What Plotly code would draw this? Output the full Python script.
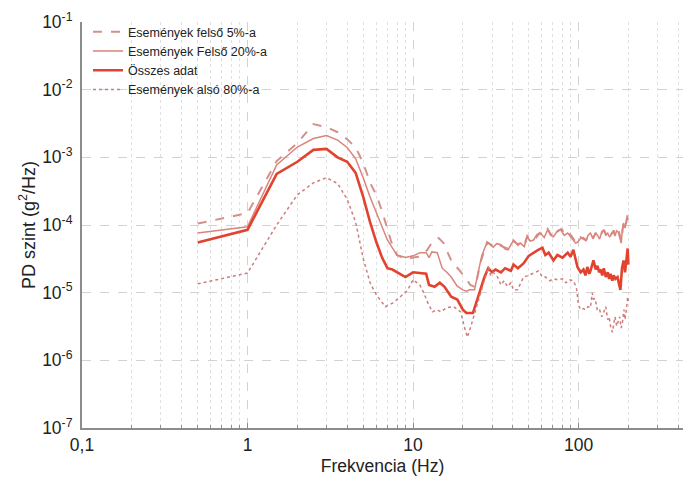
import plotly.graph_objects as go

# ---------------- data ----------------
freq_top5 = [0.5, 1, 1.5, 2, 2.5, 3, 3.5, 4, 4.5, 5, 5.5, 6, 6.5, 7, 7.5, 8, 9, 10, 11,
             12.2, 13.3, 14.3, 15.3, 16.2, 17.3, 18.9, 20.8, 22.2, 23.8, 25.5, 26.7, 28,
             30, 32, 34, 36, 38, 40.5, 43, 45, 47, 49, 52, 55, 58, 61, 65, 68, 71, 75,
             79, 83, 87, 91, 95, 99, 103, 107, 111, 115, 119, 123, 127, 131, 135, 139,
             143, 147, 151, 155, 159, 163, 167, 171, 175, 179, 182, 185, 188, 192, 195,
             198, 200]
psd_top5 = [1.05e-4, 1.5e-4, 8.8e-4, 1.63e-3, 3.1e-3, 2.8e-3, 2.35e-3, 1.85e-3, 1.4e-3,
            8.3e-4, 4.2e-4, 2.8e-4, 1.6e-4, 8.5e-5, 5.0e-5, 3.6e-5, 3.1e-5, 3.3e-5, 3.4e-5,
            4.3e-5, 6.0e-5, 6.4e-5, 5.4e-5, 3.9e-5, 2.75e-5, 2.2e-5, 1.65e-5, 1.3e-5, 1.2e-5,
            2.75e-5, 3.9e-5, 5.6e-5, 5.0e-5, 5.5e-5, 4.9e-5, 4.6e-5, 4.4e-5, 5.8e-5, 5.2e-5,
            5.6e-5, 5.0e-5, 6.9e-5, 6.0e-5, 6.3e-5, 7.6e-5, 7.0e-5, 8.8e-5, 7.3e-5, 6.5e-5,
            8.2e-5, 8.7e-5, 7.2e-5, 7.8e-5, 6.8e-5, 5.8e-5, 5.5e-5, 6.6e-5, 6.2e-5, 6.0e-5,
            7.4e-5, 7.2e-5, 6.5e-5, 7.7e-5, 6.8e-5, 6.5e-5, 8.0e-5, 8.2e-5, 7.2e-5, 7.9e-5,
            6.9e-5, 7.5e-5, 8.3e-5, 7.1e-5, 8.5e-5, 8.0e-5, 6.2e-5, 5.8e-5, 9.0e-5, 1.1e-4,
            9.5e-5, 1.2e-4, 1.45e-4, 1.3e-4]

freq_top20 = [0.5, 1, 1.5, 2, 2.5, 3, 3.5, 4, 4.5, 5, 5.5, 6, 6.5, 7, 7.5, 8, 9, 10, 11,
              12, 12.5, 13, 14, 15, 16, 17, 18.5, 20, 21, 22, 23.5, 25, 26, 27.5, 28.5,
              30.5, 32, 34, 36, 37.5, 40.5, 43, 44.5, 47, 49, 51, 53.5, 56, 59, 62, 65,
              68, 70.5, 74, 78, 82, 86, 90, 93, 96, 99, 103, 107, 111, 114, 118, 122, 126,
              130, 134, 138, 142, 146, 150, 154, 158, 162, 166, 170, 174, 178, 181, 184,
              187, 191, 194, 197, 200]
psd_top20 = [7.6e-5, 9.4e-5, 7.7e-4, 1.42e-3, 1.9e-3, 2.1e-3, 1.8e-3, 1.4e-3, 9.5e-4,
             5.0e-4, 2.6e-4, 1.5e-4, 9.4e-5, 6.0e-5, 4.6e-5, 3.6e-5, 3.3e-5, 3.5e-5, 3.9e-5,
             3.9e-5, 3.3e-5, 4.0e-5, 3.9e-5, 2.3e-5, 2.0e-5, 1.7e-5, 1.25e-5, 1.1e-5,
             1.05e-5, 1.1e-5, 1.1e-5, 2.2e-5, 3.5e-5, 5.0e-5, 5.4e-5, 4.7e-5, 5.3e-5, 5.1e-5,
             4.4e-5, 4.3e-5, 6.0e-5, 5.0e-5, 5.4e-5, 4.8e-5, 6.7e-5, 5.8e-5, 6.0e-5, 7.2e-5,
             7.6e-5, 6.5e-5, 8.5e-5, 7.0e-5, 6.7e-5, 8.0e-5, 8.5e-5, 7.0e-5, 7.6e-5, 6.6e-5,
             6.0e-5, 5.4e-5, 5.6e-5, 6.4e-5, 6.5e-5, 5.8e-5, 7.0e-5, 7.6e-5, 6.3e-5, 7.4e-5,
             7.1e-5, 6.2e-5, 7.8e-5, 8.5e-5, 7.0e-5, 7.6e-5, 6.6e-5, 7.2e-5, 8.0e-5, 6.9e-5,
             8.2e-5, 7.8e-5, 6.0e-5, 5.4e-5, 8.5e-5, 1.07e-4, 9.0e-5, 1.15e-4, 1.3e-4, 1.2e-4]

freq_all = [0.5, 1, 1.5, 2, 2.5, 3, 3.5, 4, 4.5, 5, 5.5, 6, 6.5, 7, 7.5, 8, 9, 10, 11, 12,
            12.5, 13.5, 14.5, 15.5, 17, 18.5, 20, 21, 23, 24, 25.5, 27, 28.5, 30, 31.5, 34,
            36, 39, 40.5, 43, 46.5, 50, 53.5, 57, 60.5, 63, 66, 70.5, 74.5, 80, 86, 89.5,
            93, 98.5, 103, 107, 110, 113, 116, 118, 121, 123, 127, 130, 133, 136, 139, 142,
            146, 150, 153, 156, 160, 163, 167, 172, 176, 179, 183, 187, 191, 195, 198, 200]
psd_all = [5.5e-5, 8.5e-5, 5.7e-4, 8.6e-4, 1.29e-3, 1.33e-3, 1.0e-3, 8.6e-4, 5.9e-4, 2.6e-4,
           1.1e-4, 5.6e-5, 3.3e-5, 2.3e-5, 2.2e-5, 2.0e-5, 1.7e-5, 2.0e-5, 1.96e-5, 1.9e-5,
           1.3e-5, 1.22e-5, 1.4e-5, 1.22e-5, 8.7e-6, 7.9e-6, 5.6e-6, 5.0e-6, 5.0e-6, 7.1e-6,
           1.1e-5, 1.7e-5, 2.3e-5, 2.0e-5, 2.2e-5, 2.0e-5, 2.3e-5, 2.1e-5, 2.6e-5, 2.3e-5,
           2.7e-5, 3.5e-5, 3.9e-5, 4.3e-5, 4.6e-5, 3.6e-5, 3.9e-5, 3.0e-5, 3.6e-5, 3.3e-5,
           3.9e-5, 3.4e-5, 4.3e-5, 2.4e-5, 2.0e-5, 2.2e-5, 1.8e-5, 2.4e-5, 1.9e-5, 2.1e-5,
           2.6e-5, 3.0e-5, 2.2e-5, 2.5e-5, 2.0e-5, 2.2e-5, 1.8e-5, 2.3e-5, 1.7e-5, 2.0e-5,
           1.6e-5, 1.9e-5, 1.5e-5, 1.8e-5, 1.6e-5, 1.7e-5, 1.3e-5, 1.1e-5, 2.3e-5, 3.0e-5,
           2.0e-5, 3.8e-5, 4.5e-5, 2.6e-5]

freq_low80 = [0.5, 1, 1.5, 2, 2.5, 3, 3.5, 4, 4.5, 5, 5.5, 6, 6.8, 7.6, 8.5, 9.3, 10, 11,
              11.6, 12.3, 13.1, 14, 14.7, 16, 17.6, 19.4, 20.5, 21.3, 22.2, 23.2, 24.5,
              25.5, 26.7, 27.4, 28.6, 29.4, 30.5, 32.4, 34, 35.5, 37.2, 39, 40.5, 42.8, 45,
              46.5, 49.9, 53.5, 57.3, 60.6, 63.2, 67, 70.6, 74.6, 80, 84, 88, 93, 97, 100,
              103, 107, 110, 114, 118, 121, 123, 126, 130, 134, 138, 142, 146, 150, 153, 156,
              160, 163, 166, 170, 173, 177, 181, 184, 188, 191, 195, 198, 200]
psd_low80 = [1.35e-5, 1.95e-5, 1.0e-4, 2.8e-4, 4.2e-4, 5.0e-4, 4.1e-4, 2.4e-4, 1.1e-4, 3.2e-5,
             1.4e-5, 9.3e-6, 6.2e-6, 7.1e-6, 9.0e-6, 1.1e-5, 1.55e-5, 1.3e-5, 1.0e-5, 7.0e-6,
             5.2e-6, 5.6e-6, 5.2e-6, 6.0e-6, 6.2e-6, 5.2e-6, 3.0e-6, 2.2e-6, 3.0e-6, 4.4e-6,
             7.0e-6, 1.0e-5, 1.4e-5, 1.7e-5, 2.4e-5, 1.8e-5, 2.0e-5, 1.7e-5, 1.3e-5, 1.5e-5,
             1.23e-5, 1.4e-5, 1.1e-5, 1.1e-5, 1.4e-5, 1.7e-5, 1.8e-5, 1.95e-5, 2.1e-5, 1.7e-5,
             1.7e-5, 1.5e-5, 1.6e-5, 1.55e-5, 1.6e-5, 1.4e-5, 1.55e-5, 1.5e-5, 1.2e-5, 6.5e-6,
             5.6e-6, 5.8e-6, 5.6e-6, 6.2e-6, 6.0e-6, 9.9e-6, 8.0e-6, 8.2e-6, 5.4e-6, 5.6e-6,
             4.4e-6, 5.2e-6, 6.2e-6, 4.0e-6, 4.4e-6, 3.2e-6, 2.6e-6, 3.4e-6, 4.4e-6, 3.2e-6,
             3.6e-6, 4.4e-6, 3.0e-6, 3.6e-6, 5.6e-6, 4.0e-6, 6.0e-6, 8.7e-6, 7.5e-6]

series_names = ["Események felső 5%-a", "Események Felső 20%-a", "Összes adat",
                "Események alsó 80%-a"]

x_tick_vals = [0.1, 1, 10, 100]
x_tick_text = ["0,1", "1", "10", "100"]
y_tick_vals = [1e-7, 1e-6, 1e-5, 1e-4, 1e-3, 1e-2, 1e-1]
y_tick_text = ["10<sup>-7</sup>", "10<sup>-6</sup>", "10<sup>-5</sup>", "10<sup>-4</sup>",
               "10<sup>-3</sup>", "10<sup>-2</sup>", "10<sup>-1</sup>"]

# ---------------- figure ----------------
fig = go.Figure()
fig.add_trace(go.Scatter(x=freq_top5, y=psd_top5, mode="lines", name=series_names[0],
                         line=dict(color="#d4918b", width=2, dash="dash")))
fig.add_trace(go.Scatter(x=freq_top20, y=psd_top20, mode="lines", name=series_names[1],
                         line=dict(color="#d9857d", width=1.5)))
fig.add_trace(go.Scatter(x=freq_all, y=psd_all, mode="lines", name=series_names[2],
                         line=dict(color="#e2432f", width=2.6)))
fig.add_trace(go.Scatter(x=freq_low80, y=psd_low80, mode="lines", name=series_names[3],
                         line=dict(color="#cf7c7c", width=1.5, dash="dot")))

minor_x = [m * 10 ** k for k in range(-1, 3) for m in range(2, 10)]

axis_col = "#8c8c8c"
fig.update_layout(
    width=683, height=479,
    margin=dict(l=82, r=0, t=22, b=51),
    plot_bgcolor="white", paper_bgcolor="white",
    font=dict(family="Liberation Sans, Arial, sans-serif", color="#222222"),
    legend=dict(x=0.01, y=1.012, xanchor="left", yanchor="top",
                bgcolor="rgba(0,0,0,0)", font=dict(size=12.5), tracegroupgap=0),
    showlegend=True,
)
fig.update_xaxes(
    type="log", range=[-1, 2.631],
    showline=True, linecolor=axis_col, linewidth=2,
    tickvals=x_tick_vals, ticktext=x_tick_text, tickfont=dict(size=17.5),
    ticks="inside", ticklen=5, tickcolor=axis_col, tickwidth=1,
    showgrid=True, gridcolor="#d2d2d2", griddash="dash", gridwidth=1,
    minor=dict(tickvals=minor_x, ticks="inside", ticklen=3, tickcolor=axis_col,
               showgrid=True, gridcolor="#e0e0e0", griddash="dot", gridwidth=1),
    zeroline=False,
    title=dict(text="Frekvencia (Hz)", font=dict(size=17.5), standoff=6),
)
fig.update_yaxes(
    type="log", range=[-7, -1],
    showline=True, linecolor=axis_col, linewidth=2,
    tickvals=y_tick_vals, ticktext=y_tick_text, tickfont=dict(size=17.5),
    ticks="", ticklabelstandoff=4,
    showgrid=True, gridcolor="#d2d2d2", griddash="dash", gridwidth=1,
    zeroline=False,
    title=dict(text="PD szint (g<sup>2</sup>/Hz)", font=dict(size=18), standoff=2),
)

fig.write_html("out.html")
